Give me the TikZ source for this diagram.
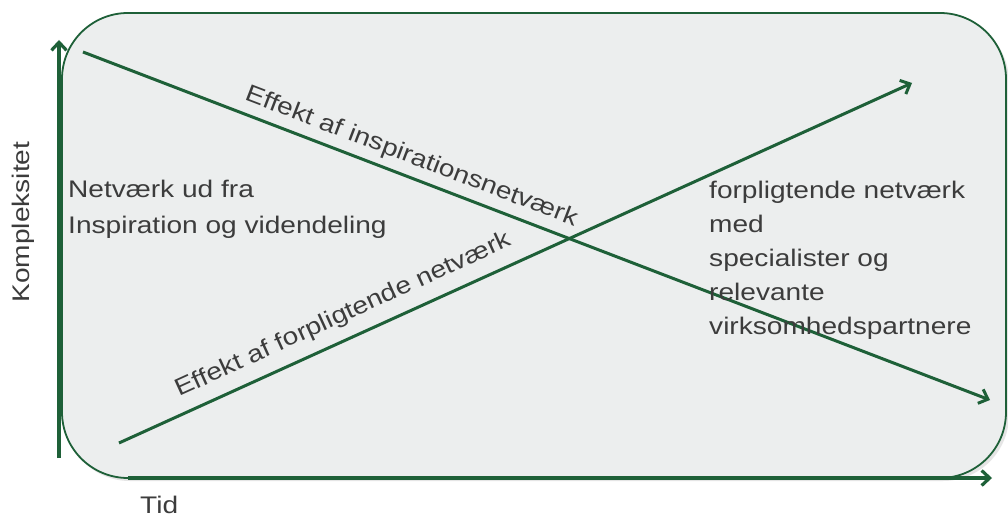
\documentclass[tikz,border=0pt]{standalone}
\usepackage{fontspec}
\setmainfont{Liberation Sans}[FakeStretch=1.17]
\usetikzlibrary{arrows.meta}
\definecolor{dgreen}{RGB}{30,96,56}
\definecolor{txt}{RGB}{60,60,60}
\definecolor{panel}{RGB}{236,238,238}
\begin{document}
\begin{tikzpicture}[x=1pt,y=-1pt,
  conn/.style={draw=dgreen, line width=3pt, -{Straight Barb[length=8pt,width=15pt]}},
  axis/.style={draw=dgreen, line width=3.2pt, -{Straight Barb[length=8pt,width=15pt]}},
  lbl/.style={text=txt, font=\fontsize{24}{34}\selectfont, inner sep=0pt},
]
\fill[white] (0,0) rectangle (1008,518);
\useasboundingbox (0,0) rectangle (1008,518);
% panel with faint shadow
\fill[black!10, rounded corners=66pt] (64,16) rectangle (1009,481);
\draw[dgreen, line width=1.8pt, fill=panel, rounded corners=66pt] (62,13) rectangle (1006,478);
% end points
\coordinate (yb) at (59,458);
\coordinate (yt) at (59,40);
\coordinate (xb) at (128,478);
\coordinate (xe) at (992,478);
\coordinate (a1s) at (83,52);
\coordinate (a1e) at (990,400);
\coordinate (a2s) at (119,443);
\coordinate (a2e) at (912,83);
% axes
\draw[axis] (yb) -- (yt);
\draw[axis] (xb) -- (xe);
% effect lines
\draw[conn] (a1s) -- (a1e);
\draw[conn] (a2s) -- (a2e);
% labels
\node[lbl, anchor=base, rotate=-20.96] (l1) at (409,163) {Effekt af inspirationsnetværk};
\node[lbl, anchor=base, rotate=24.47] (l2) at (346,321) {Effekt af forpligtende netværk};
\node[lbl, anchor=north west, align=left] (lefttxt) at (68,179.5) {Netværk ud fra\\[2pt]Inspiration og videndeling};
\node[lbl, anchor=north west, align=left] (righttxt) at (709,180.5) {forpligtende netværk\\med\\specialister og\\relevante\\virksomhedspartnere};
\node[lbl, anchor=base west] (tid) at (140,513) {Tid};
\node[lbl, anchor=base, rotate=90] (kompl) at (29.5,222) {Kompleksitet};
\end{tikzpicture}
\end{document}
